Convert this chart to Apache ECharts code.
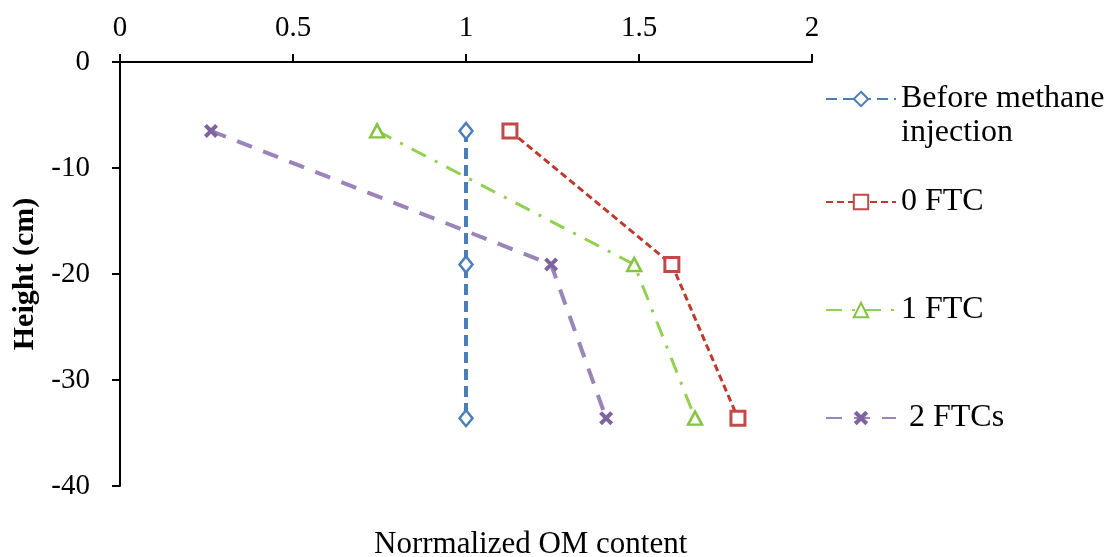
<!DOCTYPE html>
<html><head><meta charset="utf-8">
<script src="https://cdn.jsdelivr.net/npm/echarts@6/dist/echarts.min.js"></script>
<style>html,body{margin:0;padding:0;background:#fff}#c{width:1111px;height:557px}</style>
</head><body><div id="c"></div>
<script>
const seriesNames = ['Before methane\ninjection', '0 FTC', '1 FTC', ' 2 FTCs'];
const heights = [-6.5, -19.1, -33.6];
const beforeVals = [1.0, 1.0, 1.0];
const ftc0Vals = [1.127, 1.595, 1.786];
const ftc1Vals = [0.743, 1.486, 1.662];
const ftc2Vals = [0.263, 1.246, 1.405];
const xTicks = [0, 0.5, 1, 1.5, 2];
const yTicks = [0, -10, -20, -30, -40];

const FONT = '"Liberation Serif", "Times New Roman", serif';
const crossPath = 'path://M2,0 L5,3 L8,0 L10,2 L7,5 L10,8 L8,10 L5,7 L2,10 L0,8 L3,5 L0,2 Z';

function pts(vals){ return vals.map((v,i)=>[v, heights[i]]); }

const chart = echarts.init(document.getElementById('c'), null, {renderer:'canvas'});
const legendText = {fontFamily:FONT, fontSize:32, color:'#000', lineHeight:34};
const legendBase = {
  orient:'vertical', left: 825, itemWidth: 70, itemHeight: 18, itemGap: 0, padding:0,
  textStyle: legendText
};
chart.setOption({
  animation:false,
  backgroundColor:'#fff',
  grid:{left:120, right:299, top:62, bottom:71},
  xAxis:{
    type:'value', position:'top', min:0, max:2, interval:0.5,
    axisLine:{show:true, lineStyle:{color:'#000', width:2}},
    axisTick:{show:true, inside:false, length:8, lineStyle:{color:'#000', width:2}},
    axisLabel:{fontFamily:FONT, fontSize:29, color:'#000', margin:19,
      formatter: v => xTicks.includes(v) ? String(v) : ''},
    splitLine:{show:false}
  },
  yAxis:{
    type:'value', min:-40, max:0, interval:10,
    name:'Height (cm)', nameLocation:'middle', nameGap:73,
    nameTextStyle:{fontFamily:FONT, fontSize:30, fontWeight:'bold', color:'#000'},
    axisLine:{show:true, onZero:false, lineStyle:{color:'#000', width:2}},
    axisTick:{show:true, inside:false, length:8, lineStyle:{color:'#000', width:2}},
    axisLabel:{fontFamily:FONT, fontSize:29, color:'#000', margin:30,
      formatter: v => yTicks.includes(v) ? String(v) : ''},
    splitLine:{show:false}
  },
  legend:[
    Object.assign({}, legendBase, {top:48, data:[seriesNames[0]],
      formatter: name => ' \n' + name}),
    Object.assign({}, legendBase, {top:185, data:[seriesNames[1]]}),
    Object.assign({}, legendBase, {top:293, data:[seriesNames[2]]}),
    Object.assign({}, legendBase, {top:401, data:[seriesNames[3]]})
  ],
  graphic:[{
    type:'text', left:374, top:529,
    style:{text:'Norrmalized OM content', font:'31px ' + FONT, fill:'#000'}
  }],
  series:[
    {name:seriesNames[0], type:'line', data:pts(beforeVals),
     symbol:'diamond', symbolSize:[13,16],
     lineStyle:{color:'#4A7EBB', width:4, type:[11,6]},
     itemStyle:{color:'#fff', borderColor:'#4A7EBB', borderWidth:2.5}},
    {name:seriesNames[1], type:'line', data:pts(ftc0Vals),
     symbol:'rect', symbolSize:14,
     lineStyle:{color:'#C0392B', width:3, type:[7,4]},
     itemStyle:{color:'#fff', borderColor:'#BE4B48', borderWidth:3}},
    {name:seriesNames[2], type:'line', data:pts(ftc1Vals),
     symbol:'triangle', symbolSize:[14,13],
     lineStyle:{color:'#92D050', width:3, type:[16,10,3,10]},
     itemStyle:{color:'#fff', borderColor:'#86C440', borderWidth:2.5}},
    {name:seriesNames[3], type:'line', data:pts(ftc2Vals),
     symbol:crossPath, symbolSize:14,
     lineStyle:{color:'#9A84BA', width:4, type:[16,12]},
     itemStyle:{color:'#7F63A1', borderWidth:0}}
  ]
});
</script></body></html>
